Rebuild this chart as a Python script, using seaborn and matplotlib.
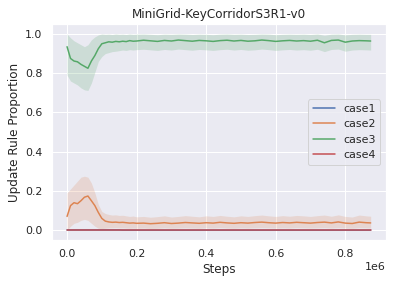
import numpy as np
import pandas as pd
import matplotlib
matplotlib.use("Agg")
import matplotlib.pyplot as plt
import seaborn as sns

# x positions, in millions of steps
steps_m = [0.00, 0.01, 0.02, 0.03, 0.04, 0.05, 0.06, 0.07, 0.08, 0.09,
           0.10, 0.11, 0.12, 0.13, 0.14, 0.15, 0.16, 0.17, 0.18, 0.19,
           0.20, 0.22, 0.24, 0.26, 0.28, 0.30, 0.32, 0.34, 0.36, 0.38,
           0.40, 0.42, 0.44, 0.46, 0.48, 0.50, 0.52, 0.54, 0.56, 0.58,
           0.60, 0.62, 0.64, 0.66, 0.68, 0.70, 0.72, 0.74, 0.76, 0.78,
           0.80, 0.82, 0.84, 0.86, 0.873]

case3_mean = [0.935, 0.875, 0.862, 0.858, 0.845, 0.835, 0.825, 0.862, 0.890, 0.925,
              0.950, 0.955, 0.960, 0.958, 0.962, 0.960, 0.963, 0.961, 0.966, 0.963,
              0.964, 0.968, 0.965, 0.962, 0.967, 0.964, 0.969, 0.966, 0.963, 0.967,
              0.965, 0.962, 0.966, 0.968, 0.964, 0.967, 0.963, 0.965, 0.969, 0.966,
              0.962, 0.965, 0.967, 0.964, 0.966, 0.963, 0.968, 0.955, 0.967, 0.969,
              0.958, 0.964, 0.966, 0.965, 0.964]
case3_lo = [0.790, 0.760, 0.750, 0.740, 0.725, 0.715, 0.712, 0.750, 0.805, 0.860,
            0.885, 0.900, 0.905, 0.910, 0.912, 0.915, 0.918, 0.916, 0.920, 0.918,
            0.920, 0.922, 0.919, 0.916, 0.921, 0.918, 0.923, 0.920, 0.917, 0.921,
            0.919, 0.916, 0.920, 0.922, 0.918, 0.921, 0.917, 0.919, 0.923, 0.920,
            0.916, 0.919, 0.921, 0.918, 0.920, 0.917, 0.922, 0.910, 0.921, 0.923,
            0.912, 0.918, 0.920, 0.919, 0.918]
case3_hi = [1.000, 0.980, 0.965, 0.955, 0.945, 0.935, 0.945, 0.970, 0.985, 0.995,
            1.000, 0.998, 0.999, 0.997, 1.000, 0.998, 0.999, 0.997, 1.000, 0.998,
            0.999, 1.000, 0.998, 0.996, 0.999, 0.998, 1.000, 0.999, 0.997, 0.999,
            0.998, 0.996, 0.999, 1.000, 0.998, 0.999, 0.997, 0.998, 1.000, 0.999,
            0.996, 0.998, 0.999, 0.998, 0.999, 0.997, 1.000, 0.993, 0.999, 1.000,
            0.995, 0.998, 0.999, 0.998, 0.998]

case2_mean = [0.070, 0.125, 0.140, 0.135, 0.150, 0.168, 0.174, 0.150, 0.125, 0.090,
              0.060, 0.046, 0.042, 0.040, 0.041, 0.039, 0.040, 0.038, 0.036, 0.037,
              0.035, 0.036, 0.033, 0.035, 0.038, 0.034, 0.036, 0.039, 0.037, 0.035,
              0.038, 0.036, 0.040, 0.037, 0.035, 0.038, 0.036, 0.039, 0.041, 0.038,
              0.036, 0.039, 0.037, 0.040, 0.038, 0.036, 0.039, 0.041, 0.037, 0.042,
              0.036, 0.034, 0.041, 0.038, 0.037]
case2_lo = [0.000, 0.020, 0.035, 0.040, 0.050, 0.055, 0.050, 0.035, 0.020, 0.010,
            0.008, 0.010, 0.012, 0.012, 0.013, 0.012, 0.012, 0.011, 0.010, 0.011,
            0.010, 0.011, 0.009, 0.010, 0.012, 0.010, 0.011, 0.012, 0.011, 0.010,
            0.012, 0.011, 0.013, 0.011, 0.010, 0.012, 0.011, 0.012, 0.013, 0.012,
            0.011, 0.012, 0.011, 0.013, 0.012, 0.011, 0.012, 0.013, 0.011, 0.013,
            0.011, 0.010, 0.013, 0.012, 0.011]
case2_hi = [0.190, 0.210, 0.230, 0.250, 0.270, 0.275, 0.270, 0.240, 0.190, 0.130,
            0.095, 0.085, 0.080, 0.077, 0.078, 0.075, 0.076, 0.073, 0.070, 0.072,
            0.068, 0.070, 0.066, 0.069, 0.073, 0.067, 0.070, 0.074, 0.071, 0.068,
            0.073, 0.070, 0.075, 0.071, 0.068, 0.073, 0.070, 0.074, 0.077, 0.073,
            0.070, 0.074, 0.071, 0.075, 0.073, 0.070, 0.074, 0.077, 0.071, 0.078,
            0.070, 0.067, 0.077, 0.073, 0.071]

case1_mean = [0.001] * 16 + [0.0] * 39
case1_hi = [0.005] * 16 + [0.0] * 39
case4_mean = [0.0] * 55

cases = ["case1", "case2", "case3", "case4"]
means = [case1_mean, case2_mean, case3_mean, case4_mean]
lows = [[0.0] * 55, case2_lo, case3_lo, [0.0] * 55]
highs = [case1_hi, case2_hi, case3_hi, [0.0] * 55]

steps = np.array(steps_m) * 1e6
df = pd.concat(
    [pd.DataFrame({"Steps": steps, "Update Rule Proportion": m, "case": c})
     for c, m in zip(cases, means)],
    ignore_index=True,
)

sns.set_theme(style="darkgrid")
palette = sns.color_palette("deep", 4)

fig, ax = plt.subplots(figsize=(399 / 72, 284 / 72), dpi=72)
for c, lo, hi, col in zip(cases, lows, highs, palette):
    ax.fill_between(steps, lo, hi, color=col, alpha=0.2, linewidth=0)
sns.lineplot(data=df, x="Steps", y="Update Rule Proportion", hue="case",
             palette=palette, errorbar=None, ax=ax)

# fixed 1e6 multiplier on the x axis, as in the original
ax.ticklabel_format(axis="x", style="sci", scilimits=(6, 6))
ax.set_title("MiniGrid-KeyCorridorS3R1-v0")
ax.legend(loc="center right")
fig.subplots_adjust(left=0.130, right=0.967, top=0.915, bottom=0.155)
fig.savefig("out.png", dpi=72)
